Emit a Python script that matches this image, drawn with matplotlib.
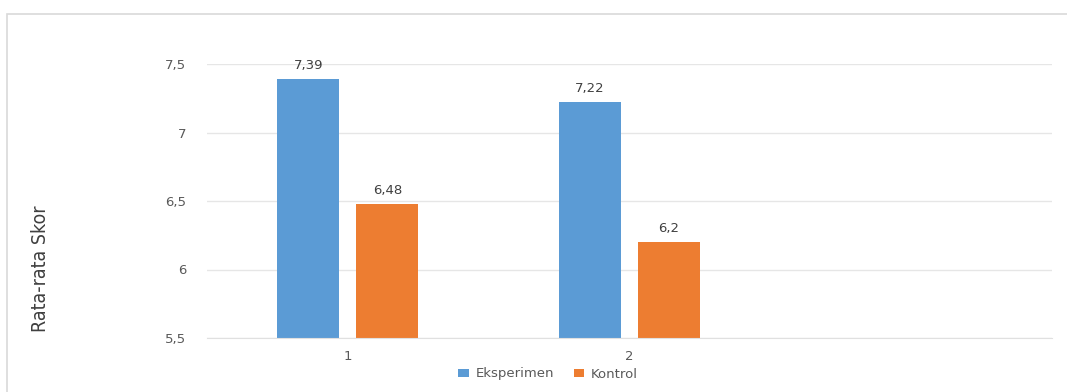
import matplotlib
matplotlib.use("Agg")
import matplotlib.pyplot as plt
from matplotlib import font_manager
from matplotlib.patches import Rectangle
import numpy as np

categories = ["1", "2", ""]
eksperimen = [7.39, 7.22]
kontrol = [6.48, 6.2]
y_ticks = [5.5, 6, 6.5, 7, 7.5]
y_tick_labels = ["5,5", "6", "6,5", "7", "7,5"]

blue = "#5B9BD5"
orange = "#ED7D31"

# look for a regular condensed face for the axis title
narrow = None
for f in font_manager.fontManager.ttflist:
    condensed = "Narrow" in f.name or "Condensed" in f.name or "condensed" in str(f.stretch)
    regular = f.weight in (400, "normal", "regular", "book") and f.style == "normal"
    if condensed and regular:
        narrow = f.fname
        break

fig = plt.figure(figsize=(10.67, 3.92), dpi=100)
fig.patches.append(Rectangle((7 / 1067, -0.1), 1.2, 1.1 - 14 / 392, transform=fig.transFigure,
                             fill=False, edgecolor="#d9d9d9", linewidth=1.2))
ax = fig.add_axes([207 / 1067, 1 - 338 / 392, 845 / 1067, 274 / 392])

x = np.arange(len(eksperimen))
w = 0.22
b1 = ax.bar(x - 0.14, np.array(eksperimen) - 5.5, w, bottom=5.5, color=blue, label="Eksperimen")
b2 = ax.bar(x + 0.14, np.array(kontrol) - 5.5, w, bottom=5.5, color=orange, label="Kontrol")

for bars, vals in ((b1, eksperimen), (b2, kontrol)):
    for r, v in zip(bars, vals):
        ax.annotate(str(v).replace(".", ","), (r.get_x() + r.get_width() / 2, v),
                    xytext=(0, 5), textcoords="offset points", ha="center", va="bottom",
                    fontsize=9.5, color="#404040")

ax.set_xlim(-0.5, len(categories) - 0.5)
ax.set_ylim(5.5, 7.5)
ax.set_xticks(range(len(categories)))
ax.set_xticklabels(categories)
ax.set_yticks(y_ticks)
ax.set_yticklabels(y_tick_labels)
ax.tick_params(axis="both", length=0, labelsize=9.5, labelcolor="#595959")
ax.tick_params(axis="y", pad=15)
ax.tick_params(axis="x", pad=9)
ax.yaxis.grid(True, color="#e6e6e6", linewidth=1)
ax.set_axisbelow(True)
for s in ("top", "right", "left"):
    ax.spines[s].set_visible(False)
ax.spines["bottom"].set_color("#e0e0e0")

if narrow:
    fig.text(40 / 1067, 1 - 269 / 392, "Rata-rata Skor", rotation=90, ha="center", va="center",
             color="#404040", fontproperties=font_manager.FontProperties(fname=narrow, size=14))
else:
    fig.text(40 / 1067, 1 - 269 / 392, "Rata-rata Skor", rotation=90, ha="center", va="center",
             fontsize=12.5, color="#404040")

fig.legend(handles=[b1, b2], loc="center", bbox_to_anchor=(548 / 1067, 1 - 374 / 392), ncol=2,
           frameon=False, fontsize=9.5, labelcolor="#595959", handlelength=0.8, handleheight=0.6,
           handletextpad=0.5, columnspacing=1.5)

fig.savefig("out.png", dpi=100)
